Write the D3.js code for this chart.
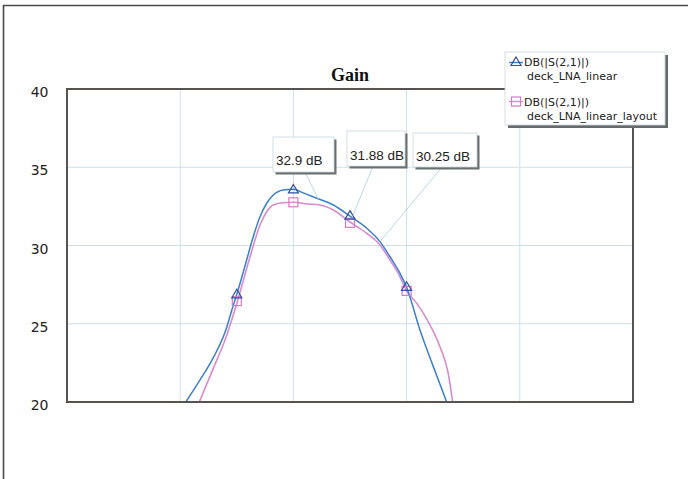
<!DOCTYPE html>
<html>
<head>
<meta charset="utf-8">
<script src="https://cdn.jsdelivr.net/npm/d3@7"></script>
<style>
  html, body { margin: 0; padding: 0; background: #fff; }
  svg { display: block; }
</style>
</head>
<body>
<svg id="chart" width="688" height="479"></svg>
<script>
// Gain data (x in GHz, grid every 1 GHz, no x labels shown)
const yTicks = [20, 25, 30, 35, 40];
const xGrid = [0, 1, 2, 3, 4, 5];

const linearFreq = [1.05, 1.175, 1.29, 1.41, 1.455, 1.5, 1.587, 1.632, 1.705, 1.764, 1.822, 1.911, 2.0, 2.087, 2.206, 2.353, 2.5, 2.648, 2.765, 2.853, 2.942, 3.0, 3.118, 3.236, 3.354];
const linearGain = [20.0, 21.41, 22.8, 24.75, 25.85, 26.88, 29.07, 30.24, 31.84, 32.7, 33.23, 33.55, 33.6, 33.36, 33.02, 32.59, 31.88, 31.1, 30.25, 29.28, 28.22, 27.33, 24.6, 22.26, 20.0];

const layoutFreq = [1.169, 1.292, 1.396, 1.5, 1.617, 1.705, 1.764, 1.822, 1.911, 2.0, 2.132, 2.206, 2.353, 2.5, 2.648, 2.765, 2.853, 2.942, 3.0, 3.09, 3.178, 3.295, 3.368, 3.407];
const layoutGain = [20.0, 22.15, 23.96, 26.3, 29.28, 31.31, 32.16, 32.59, 32.73, 32.76, 32.65, 32.62, 32.27, 31.5, 30.78, 30.03, 29.07, 28.0, 27.1, 26.3, 25.3, 23.53, 21.83, 20.0];

const markerFreq = [1.5, 2.0, 2.5, 3.0];
const linearMarkerGain = [26.85, 33.55, 31.88, 27.33];
const layoutMarkerGain = [26.45, 32.76, 31.45, 27.1];

const labelText = ['32.9 dB', '31.88 dB', '30.25 dB'];
const labelFreq = [2.22, 2.52, 2.765];
const labelGain = [32.95, 31.8, 30.25];

const seriesNames = ['DB(|S(2,1)|)', 'DB(|S(2,1)|)'];
const seriesSub = ['deck_LNA_linear', 'deck_LNA_linear_layout'];

// Layout
const svg = d3.select('#chart');
const plotLeft = 67, plotRight = 633, plotTop = 89, plotBottom = 402;

const x = d3.scaleLinear().domain([0, 5]).range([plotLeft, plotRight]);
const y = d3.scaleLinear().domain([20, 40]).range([plotBottom, plotTop]);

const blue = '#3b7fcf';
const blueMark = '#2f4f9f';
const pink = '#d98ad0';
const pinkMark = '#d47cc4';

// Outer frame
svg.append('path')
  .attr('d', 'M3.5,479 L3.5,5.5 L688,5.5')
  .attr('fill', 'none')
  .attr('stroke', '#4a4a4a')
  .attr('stroke-width', 1.6);

// Title
svg.append('text')
  .attr('x', (plotLeft + plotRight) / 2)
  .attr('y', 81)
  .attr('text-anchor', 'middle')
  .style('font-family', '"Liberation Serif", "Times New Roman", serif')
  .style('font-weight', 'bold')
  .style('font-size', '18px')
  .attr('fill', '#111')
  .text('Gain');

// Grid
const grid = svg.append('g').attr('stroke', '#cfe0ea').attr('stroke-width', 1);
grid.selectAll('line.v')
  .data(xGrid.slice(1, -1))
  .join('line')
  .attr('class', 'v')
  .attr('x1', (d) => x(d)).attr('x2', (d) => x(d))
  .attr('y1', plotTop).attr('y2', plotBottom);
grid.selectAll('line.h')
  .data(yTicks.slice(1, -1))
  .join('line')
  .attr('class', 'h')
  .attr('x1', plotLeft).attr('x2', plotRight)
  .attr('y1', (d) => y(d)).attr('y2', (d) => y(d));

// Y axis labels
const yAxis = svg.append('g')
  .attr('transform', `translate(${plotLeft},0)`)
  .call(d3.axisLeft(y).tickValues(yTicks).tickSize(0).tickPadding(18.5).tickFormat(d3.format('d')));
yAxis.select('.domain').remove();
yAxis.selectAll('text')
  .attr('dy', '0.55em')
  .attr('fill', '#222')
  .style('font-family', '"DejaVu Sans", sans-serif')
  .style('font-size', '14px');

// Curves
svg.append('clipPath').attr('id', 'plot-clip')
  .append('rect').attr('x', plotLeft).attr('y', plotTop)
  .attr('width', plotRight - plotLeft).attr('height', plotBottom - plotTop);

const line = d3.line()
  .x((d) => x(d[0]))
  .y((d) => y(d[1]))
  .curve(d3.curveMonotoneX);

const curves = svg.append('g').attr('clip-path', 'url(#plot-clip)');
curves.append('path')
  .datum(d3.zip(layoutFreq, layoutGain))
  .attr('d', line)
  .attr('fill', 'none')
  .attr('stroke', pink)
  .attr('stroke-width', 1.6);
curves.append('path')
  .datum(d3.zip(linearFreq, linearGain))
  .attr('d', line)
  .attr('fill', 'none')
  .attr('stroke', blue)
  .attr('stroke-width', 1.5);

// Marker shapes
function triangle(g, cx, cy) {
  g.append('path')
    .attr('d', `M${cx},${cy - 5.5} L${cx + 5},${cy + 3} L${cx - 5},${cy + 3} Z`)
    .attr('fill', 'none')
    .attr('stroke', blueMark)
    .attr('stroke-width', 1.2);
}
function square(g, cx, cy) {
  g.append('rect')
    .attr('x', cx - 4.5).attr('y', cy - 4.5)
    .attr('width', 9).attr('height', 9)
    .attr('fill', 'none')
    .attr('stroke', pinkMark)
    .attr('stroke-width', 1.2);
}

const marks = svg.append('g');
markerFreq.forEach((f, i) => square(marks, x(f), y(layoutMarkerGain[i])));
markerFreq.forEach((f, i) => triangle(marks, x(f), y(linearMarkerGain[i])));

// Plot frame
svg.append('rect')
  .attr('x', plotLeft).attr('y', plotTop)
  .attr('width', plotRight - plotLeft).attr('height', plotBottom - plotTop)
  .attr('fill', 'none')
  .attr('stroke', '#575350')
  .attr('stroke-width', 2);

// Marker labels (box left/top, box width/height, leader start)
const labelBoxes = [
  { bx: 273, by: 137, bw: 61, bh: 35, lx: 305, ly: 172, ty: 165 },
  { bx: 347, by: 131, bw: 58, bh: 35, lx: 373, ly: 166, ty: 160 },
  { bx: 413, by: 133, bw: 64, bh: 34, lx: 442, ly: 167, ty: 161 }
];

const labels = svg.append('g');
labelText.forEach((t, i) => {
  const b = labelBoxes[i];
  labels.append('line')
    .attr('x1', b.lx).attr('y1', b.ly)
    .attr('x2', x(labelFreq[i])).attr('y2', y(labelGain[i]))
    .attr('stroke', '#a9cde2')
    .attr('stroke-width', 0.8);
  labels.append('rect')
    .attr('x', b.bx + 2.5).attr('y', b.by + 2.5)
    .attr('width', b.bw).attr('height', b.bh)
    .attr('fill', '#6b6f70');
  labels.append('rect')
    .attr('x', b.bx).attr('y', b.by)
    .attr('width', b.bw).attr('height', b.bh)
    .attr('fill', '#fff')
    .attr('stroke', '#c9d6de')
    .attr('stroke-width', 0.8);
  labels.append('text')
    .attr('x', b.bx + 3).attr('y', b.ty)
    .attr('fill', '#222')
    .style('font-family', '"Liberation Sans", Arial, sans-serif')
    .style('font-size', '13.5px')
    .text(t);
});

// Legend
const lg = svg.append('g');
lg.append('rect').attr('x', 508).attr('y', 55).attr('width', 160).attr('height', 73).attr('fill', '#666a6c');
lg.append('rect').attr('x', 505).attr('y', 52).attr('width', 160).attr('height', 73)
  .attr('fill', '#fff').attr('stroke', '#cdd8de').attr('stroke-width', 0.8);

const legendRows = [
  { my: 62.5, ty1: 66, ty2: 80, color: blue, shape: triangle },
  { my: 101.5, ty1: 106, ty2: 119.5, color: pink, shape: square }
];
legendRows.forEach((r, i) => {
  lg.append('line')
    .attr('x1', 509).attr('x2', 523)
    .attr('y1', r.my).attr('y2', r.my)
    .attr('stroke', r.color).attr('stroke-width', 1.4);
  r.shape(lg, 516, r.my);
  lg.append('text')
    .attr('x', 524).attr('y', r.ty1)
    .attr('fill', '#222')
    .style('font-family', '"DejaVu Sans", sans-serif')
    .style('font-size', '11px')
    .text(seriesNames[i]);
  lg.append('text')
    .attr('x', 527).attr('y', r.ty2)
    .attr('fill', '#222')
    .style('font-family', '"DejaVu Sans", sans-serif')
    .style('font-size', '11px')
    .text(seriesSub[i]);
});
</script>
</body>
</html>
